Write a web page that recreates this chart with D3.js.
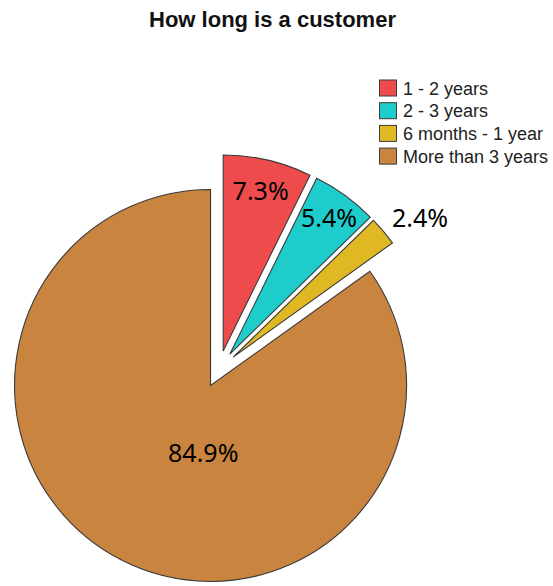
<!DOCTYPE html>
<html>
<head>
<meta charset="utf-8">
<script src="https://cdn.jsdelivr.net/npm/d3@7"></script>
<style>
  html, body { margin: 0; padding: 0; background: #ffffff; }
  svg { display: block; }
</style>
</head>
<body>
<svg id="chart" width="553" height="586"></svg>
<script>
// Customer tenure shares (percent)
const categories = ["1 - 2 years", "2 - 3 years", "6 months - 1 year", "More than 3 years"];
const percents = [7.3, 5.4, 2.4, 84.9];
const sliceColors = ["#ee4b4d", "#1ecccc", "#e0b823", "#c9843f"];
const titleText = "How long is a customer";

// Layout settings
const W = 553, H = 586;
const cx = 219, cy = 369;       // pie centre before exploding
const radius = 196;
const explode = 18.5;           // every slice pulled out along its mid-angle
// label placement per slice: radial fraction from the slice apex and angle shift (deg)
const labelFrac = [0.84, 0.86, 1.19, 0.345];
const labelShift = [0, 0, 3.2, -21];

const svg = d3.select("#chart");

svg.append("text")
  .attr("x", 272.5).attr("y", 27)
  .attr("text-anchor", "middle")
  .attr("font-family", "Liberation Sans, Arial, sans-serif")
  .attr("font-weight", "bold")
  .attr("font-size", 22)
  .attr("fill", "#111")
  .text(titleText);

const pie = d3.pie().sort(null).value(d => d)(percents);
const arc = d3.arc().innerRadius(0).outerRadius(radius);

const color = d3.scaleOrdinal().domain(categories).range(sliceColors);

const mid = d => (d.startAngle + d.endAngle) / 2;
const apex = d => {
  const a = mid(d);
  return [cx + explode * Math.sin(a), cy - explode * Math.cos(a)];
};

const slices = svg.append("g").selectAll("g.slice")
  .data(pie)
  .join("g")
  .attr("class", "slice")
  .attr("transform", d => { const p = apex(d); return `translate(${p[0]},${p[1]})`; });

slices.append("path")
  .attr("d", arc)
  .attr("fill", (d, i) => color(categories[i]))
  .attr("stroke", "#3a3a3a")
  .attr("stroke-width", 1.1)
  .attr("stroke-linejoin", "miter");

// percentage labels
svg.append("g").selectAll("text")
  .data(pie)
  .join("text")
  .attr("x", (d, i) => {
    const a = mid(d) + labelShift[i] * Math.PI / 180;
    return apex(d)[0] + labelFrac[i] * radius * Math.sin(a);
  })
  .attr("y", (d, i) => {
    const a = mid(d) + labelShift[i] * Math.PI / 180;
    return apex(d)[1] - labelFrac[i] * radius * Math.cos(a) + 9;
  })
  .attr("text-anchor", "middle")
  .attr("font-family", "Noto Sans, Lato, sans-serif")
  .attr("font-size", 25)
  .attr("fill", "#000")
  .text((d, i) => percents[i].toFixed(1) + "%");

// legend
const legendX = 379, legendY = 79.5, rowH = 22.7;
const legend = svg.append("g").attr("transform", `translate(${legendX},${legendY})`);
const rows = legend.selectAll("g")
  .data(categories)
  .join("g")
  .attr("transform", (d, i) => `translate(0,${i * rowH})`);
rows.append("rect")
  .attr("x", 0.5).attr("y", 0.5)
  .attr("width", 17).attr("height", 16)
  .attr("fill", d => color(d))
  .attr("stroke", "#3a3a3a")
  .attr("stroke-width", 1);
rows.append("text")
  .attr("x", 24).attr("y", 15)
  .attr("font-family", "Liberation Sans, Arial, sans-serif")
  .attr("font-size", 18)
  .attr("fill", "#222")
  .text(d => d);
</script>
</body>
</html>
